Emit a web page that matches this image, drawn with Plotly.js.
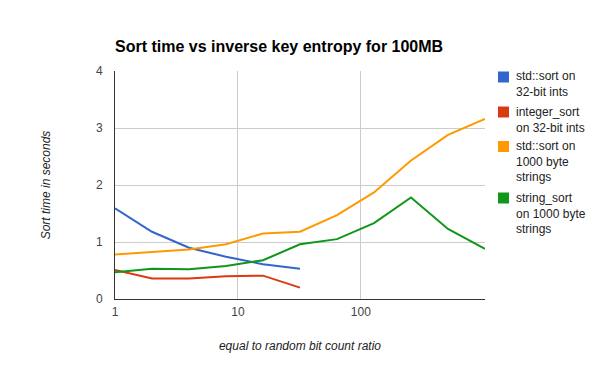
<!DOCTYPE html>
<html>
<head>
<meta charset="utf-8">
<script src="https://cdn.plot.ly/plotly-3.0.1.min.js"></script>
<style>html,body{margin:0;padding:0;background:#fff}#chart{width:600px;height:371px}</style>
</head>
<body>
<div id="chart"></div>
<script>
const ratios = [1, 2, 4, 8, 16, 32, 64, 128, 256, 512, 1024];
const stdSortInts = [1.59, 1.18, 0.90, 0.74, 0.61, 0.53];
const integerSortInts = [0.51, 0.36, 0.36, 0.40, 0.41, 0.20];
const stdSortStrings = [0.78, 0.83, 0.87, 0.96, 1.15, 1.18, 1.47, 1.87, 2.43, 2.88, 3.16];
const stringSortStrings = [0.47, 0.53, 0.52, 0.58, 0.68, 0.96, 1.05, 1.33, 1.78, 1.23, 0.88];
const seriesNames = ["std::sort on<br>32-bit ints", "integer_sort<br>on 32-bit ints", "std::sort on<br>1000 byte<br>strings", "string_sort<br>on 1000 byte<br>strings"];
const colors = ["#3366cc", "#dc3912", "#ff9900", "#109618"];
const yTicks = [0, 1, 2, 3, 4];
const xTicks = [1, 10, 100];

const W = 600, H = 371;
const M = {l: 115, r: 115, t: 71, b: 72};
const plotW = W - M.l - M.r, plotH = H - M.t - M.b;
const px2x = p => (p - M.l) / plotW;
const px2y = p => (H - M.b - p) / plotH;

const allY = [stdSortInts, integerSortInts, stdSortStrings, stringSortStrings];
const traces = allY.map((ys, i) => ({
  x: ratios.slice(0, ys.length), y: ys, mode: 'lines', type: 'scatter', name: seriesNames[i].replace(/<br>/g, ' '),
  line: {color: colors[i], width: 2}, showlegend: false, hoverinfo: 'x+y'
}));

// Manual legend (square swatches + wrapped text)
const legendTop = [77, 112, 146.5, 198];
const shapes = [], annotations = [];
seriesNames.forEach((n, i) => {
  const c = legendTop[i];
  shapes.push({type: 'rect', xref: 'paper', yref: 'paper', x0: px2x(498), x1: px2x(509),
               y0: px2y(c - 5.5), y1: px2y(c + 5.5), fillcolor: colors[i], line: {width: 0}});
  annotations.push({xref: 'paper', yref: 'paper', x: px2x(515), y: px2y(c - 8.5), xanchor: 'left', yanchor: 'top',
                    align: 'left', showarrow: false, text: n, borderpad: 0,
                    font: {size: 12, color: '#222'}});
});

const font = "Arial, 'Liberation Sans', sans-serif";
const layout = {
  width: W, height: H,
  margin: {l: M.l, r: M.r, t: M.t, b: M.b, autoexpand: false},
  paper_bgcolor: '#fff', plot_bgcolor: '#fff',
  font: {family: font, size: 12, color: '#444'},
  title: {text: '<b>Sort time vs inverse key entropy for 100MB</b>', font: {family: font, size: 16, color: '#000'},
          xref: 'paper', x: 0, xanchor: 'left', yref: 'container', y: 0.876, yanchor: 'middle'},
  xaxis: {type: 'log', range: [0, Math.log10(1024)], tickvals: xTicks, ticktext: xTicks.map(String),
          showgrid: true, gridcolor: '#cccccc', showline: true, linecolor: '#333', linewidth: 1,
          zeroline: false, ticks: '', tickfont: {size: 12, color: '#444'}, ticklabelstandoff: 2,
          title: {text: '<i>equal to random bit count ratio</i>', font: {size: 12, color: '#222'}, standoff: 23}},
  yaxis: {range: [0, 4], tickvals: yTicks, showgrid: true, gridcolor: '#cccccc', showline: true,
          linecolor: '#333', linewidth: 1, zeroline: false, ticks: '', tickfont: {size: 12, color: '#444'},
          ticklabelstandoff: 9,
          title: {text: '<i>Sort time in seconds</i>', font: {size: 12, color: '#222'}, standoff: 42}},
  shapes: shapes, annotations: annotations,
  showlegend: false
};
Plotly.newPlot('chart', traces, layout, {displayModeBar: false, responsive: false});
</script>
</body>
</html>
